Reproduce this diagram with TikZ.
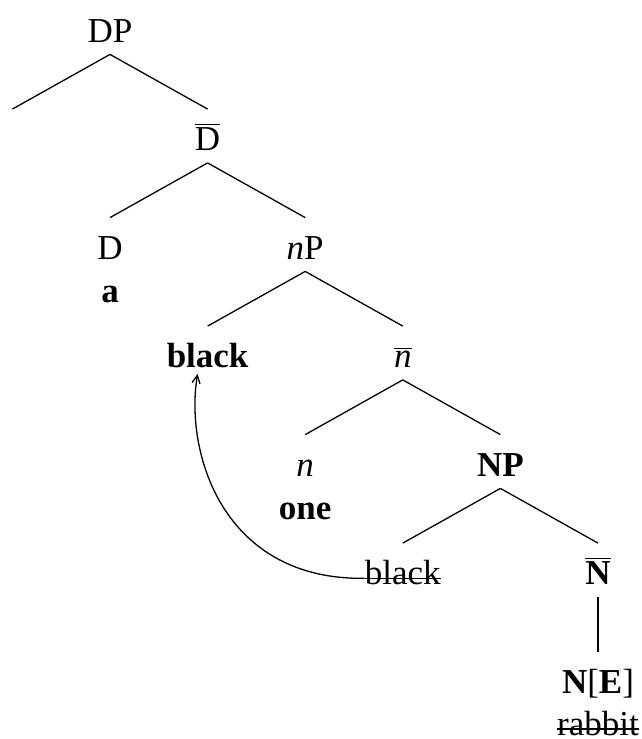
\documentclass[tikz,border=0pt]{standalone}
\usepackage{fontspec}
\setmainfont{Liberation Serif}
\usetikzlibrary{arrows.meta,positioning}

\newsavebox\strkbox
\newcommand\struck[1]{\sbox\strkbox{#1}\rlap{\usebox\strkbox}\rule[2.7pt]{\wd\strkbox}{0.8pt}}

\begin{document}
\begin{tikzpicture}[
    x=0.5pt, y=-0.5pt,
    node distance=54.25pt and 48.8pt, on grid,
    every node/.style={inner xsep=0pt, inner ysep=2pt, text height=18.5pt, text depth=4pt,
        font=\fontsize{17.5}{21}\selectfont},
    branch/.style={line width=0.65pt},
    move/.style={line width=0.65pt, -{Straight Barb[length=4pt,width=4pt]}}
]
\useasboundingbox (0,0) rectangle (642,739);

% Spine of the tree
\node[anchor=base] (DP) at (110,42) {DP};
\node (spec) [below left=of DP] {};
\node (Dbar) [below right=of DP] {$\overline{\mbox{D}}$};
\node (D) [below left=of Dbar] {D};
\node (nP) [below right=of Dbar] {\textit{n}P};
\node (blackA) [below left=of nP] {\textbf{black}};
\node (nbar) [below right=of nP] {$\overline{\mbox{\textit{n}}}$};
\node (n) [below left=of nbar] {\textit{n}};
\node (NP) [below right=of nbar] {\textbf{NP}};
\node (blackB) [below left=of NP] {\struck{black}};
\node (Nbar) [below right=of NP] {$\overline{\mbox{\textbf{N}}}$};
\node (NE) [below=of Nbar] {\textbf{N}[\textbf{E}]};

% Words under the heads
\node (a) [below=21.5pt of D] {\textbf{a}};
\node (one) [below=21.5pt of n] {\textbf{one}};
\node (rabbit) [below=21pt of NE] {\struck{rabbit}};

% Branches
\draw[branch] (DP.south) -- (spec.north);
\draw[branch] (DP.south) -- (Dbar.north);
\draw[branch] (Dbar.south) -- (D.north);
\draw[branch] (Dbar.south) -- (nP.north);
\draw[branch] (nP.south) -- (blackA.north);
\draw[branch] (nP.south) -- (nbar.north);
\draw[branch] (nbar.south) -- (n.north);
\draw[branch] (nbar.south) -- (NP.north);
\draw[branch] (NP.south) -- (blackB.north);
\draw[branch] (NP.south) -- (Nbar.north);
\draw[branch] (Nbar.south) -- (NE.north);

% Movement of the adjective
\draw[move] ([yshift=3.1pt]blackB.base west) .. controls +(-143,2) and +(-13,77) ..
    ([xshift=-5pt,yshift=3pt]blackA.south);

\end{tikzpicture}
\end{document}
